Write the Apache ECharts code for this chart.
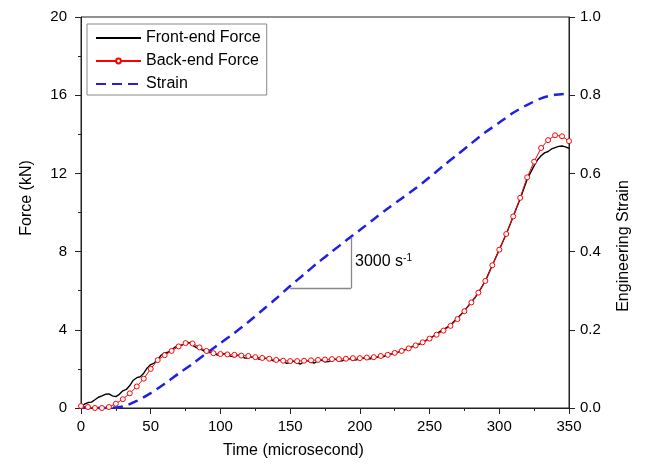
<!DOCTYPE html>
<html>
<head>
<meta charset="utf-8">
<script src="https://cdn.jsdelivr.net/npm/echarts@6/dist/echarts.min.js"></script>
<style>html,body{margin:0;padding:0;background:#fff;}#c{width:646px;height:465px;}</style>
</head>
<body>
<div id="c"></div>
<script>
// Front-end force samples every 2.5 us (0..350)
const frontTime = Array.from({length:141}, (_, i) => i * 2.5);
const frontForce = [0.05,0.2,0.28,0.3,0.42,0.55,0.62,0.7,0.72,0.62,0.58,0.7,0.88,0.95,1.15,1.42,1.55,1.6,1.78,2.05,
  2.22,2.3,2.48,2.7,2.82,2.85,2.98,3.12,3.18,3.22,3.3,3.35,3.22,3.1,3.02,2.95,2.82,2.85,2.78,2.72,
  2.68,2.78,2.74,2.64,2.62,2.7,2.66,2.55,2.56,2.62,2.58,2.5,2.48,2.55,2.5,2.42,2.38,2.45,2.4,2.28,
  2.33,2.4,2.3,2.25,2.38,2.42,2.34,2.3,2.42,2.45,2.36,2.38,2.44,2.5,2.4,2.42,2.48,2.52,2.44,2.46,
  2.52,2.56,2.5,2.52,2.56,2.62,2.58,2.64,2.72,2.76,2.78,2.86,2.92,2.98,3.04,3.14,3.22,3.26,3.34,3.46,
  3.56,3.66,3.78,3.92,4.02,4.12,4.24,4.42,4.6,4.78,4.98,5.2,5.42,5.64,5.9,6.2,6.5,6.9,7.3,7.7,
  8.1,8.5,8.9,9.35,9.8,10.25,10.7,11.2,11.7,12.05,12.4,12.7,12.9,13.05,13.12,13.25,13.32,13.38,13.4,13.36,13.28];
// Back-end force samples every 5 us (0..350)
const backTime = [0,5,10,15,20,25,30,35,40,45,50,55,60,65,70,75,80,85,90,95,100,105,110,115,120,125,130,135,140,145,150,155,160,165,170,175,180,185,190,195,200,205,210,215,220,225,230,235,240,245,250,255,260,265,270,275,280,285,290,295,300,305,310,315,320,325,330,335,340,345,350];
const backForce = [0.1,0.05,0.0,0.0,0.05,0.22,0.45,0.75,1.1,1.5,2.0,2.45,2.7,2.92,3.15,3.32,3.3,3.1,2.92,2.8,2.76,2.74,2.72,2.68,2.66,2.6,2.56,2.52,2.46,2.42,2.4,2.4,2.42,2.44,2.46,2.48,2.5,2.5,2.52,2.55,2.55,2.58,2.6,2.66,2.72,2.82,2.92,3.05,3.2,3.36,3.55,3.75,3.96,4.2,4.55,4.95,5.4,5.9,6.5,7.3,8.1,8.9,9.8,10.75,11.8,12.6,13.3,13.7,13.95,13.9,13.65];
// Engineering strain, 10 us steps (0..350)
const strainTime = [0,10,20,30,40,50,60,70,80,90,100,110,120,130,140,150,160,170,180,190,200,210,220,230,240,250,260,270,280,290,300,310,320,330,340,350];
const strain = [0,0,0,0.004,0.018,0.038,0.062,0.088,0.113,0.14,0.166,0.192,0.22,0.25,0.28,0.312,0.342,0.372,0.4,0.428,0.455,0.483,0.51,0.536,0.562,0.59,0.62,0.648,0.677,0.705,0.73,0.755,0.775,0.792,0.801,0.804];
const xTicks = [0,50,100,150,200,250,300,350];
const forceTicks = [0,4,8,12,16,20];
const strainTicks = [0,0.2,0.4,0.6,0.8,1.0];
const seriesNames = ['Front-end Force','Back-end Force','Strain'];
// slope annotation (time, strain)
const slopeTri = [[150,0.306],[193.7,0.306],[193.7,0.436]];
const slopeLabel = '3000 s';
const slopeSup = '-1';

const FONT = "'Liberation Sans', Arial, sans-serif";
const chart = echarts.init(document.getElementById('c'));
const zip = (a,b) => a.map((v,i)=>[v,b[i]]);
const axisLineStyle = {color:'#222', width:1};
chart.setOption({
  animation:false,
  textStyle:{fontFamily:FONT},
  grid:{left:81,right:77,top:17,bottom:57,show:true,borderColor:'#222',borderWidth:1},
  legend:{
    orient:'vertical', left:87, top:24, padding:[5,6,2,8], itemGap:5,
    itemWidth:45, itemHeight:6, borderColor:'#888', borderWidth:1, backgroundColor:'#fff',
    textStyle:{fontSize:16, color:'#000', fontFamily:FONT, lineHeight:18},
    data:[
      {name:seriesNames[0], itemStyle:{opacity:0}},
      {name:seriesNames[1]},
      {name:seriesNames[2], itemStyle:{opacity:0}}
    ]
  },
  xAxis:{
    type:'value', min:xTicks[0], max:xTicks[xTicks.length-1], interval:50,
    axisLine:{show:true, lineStyle:axisLineStyle},
    axisTick:{show:true, inside:false, length:6, lineStyle:axisLineStyle},
    minorTick:{show:true, splitNumber:2, length:3, lineStyle:axisLineStyle},
    splitLine:{show:false},
    axisLabel:{fontSize:15, color:'#000', margin:11, fontFamily:FONT}
  },
  yAxis:[{
    type:'value', min:forceTicks[0], max:forceTicks[forceTicks.length-1], interval:4, position:'left',
    axisLine:{show:true, lineStyle:axisLineStyle},
    axisTick:{show:true, inside:false, length:6, lineStyle:axisLineStyle},
    minorTick:{show:true, splitNumber:2, length:3, lineStyle:axisLineStyle},
    splitLine:{show:false},
    axisLabel:{fontSize:15, color:'#000', margin:14, fontFamily:FONT}
  },{
    type:'value', min:strainTicks[0], max:strainTicks[strainTicks.length-1], interval:0.2, position:'right',
    axisLine:{show:true, lineStyle:axisLineStyle},
    axisTick:{show:true, inside:false, length:6, lineStyle:axisLineStyle},
    splitLine:{show:false},
    axisLabel:{fontSize:15, color:'#000', margin:11, fontFamily:FONT, formatter:v=>v.toFixed(1)}
  }],
  series:[
    {name:seriesNames[0], type:'line', data:zip(frontTime,frontForce), symbol:'none',
     lineStyle:{color:'#000', width:1.4}, itemStyle:{color:'#000'}},
    {name:seriesNames[1], type:'line', data:zip(backTime,backForce), symbol:'circle', symbolSize:5,
     showSymbol:true,
     lineStyle:{color:'#ff0000', width:1}, itemStyle:{color:'#fff', borderColor:'#ff0000', borderWidth:1}},
    {name:seriesNames[2], type:'line', yAxisIndex:1, data:zip(strainTime,strain), symbol:'none', smooth:0.3,
     lineStyle:{color:'#1f1fe6', width:2.5, type:[10,6]}, itemStyle:{color:'#1f1fe6'},
     markLine:{silent:true, symbol:'none', animation:false,
       lineStyle:{color:'#888', width:1.3, type:'solid'}, label:{show:false},
       data:[[{coord:slopeTri[0]},{coord:slopeTri[1]}],[{coord:slopeTri[1]},{coord:slopeTri[2]}]]}}
  ]
});
const p = chart.convertToPixel({xAxisIndex:0, yAxisIndex:1}, [slopeTri[1][0], (slopeTri[1][1]+slopeTri[2][1])/2]);
chart.setOption({graphic:[
  {type:'text', left:p[0]+4, top:p[1]-10, style:{text:'{a|'+slopeLabel+'}{b|'+slopeSup+'}', fill:'#000',
    rich:{a:{fontSize:16, fontFamily:FONT, fill:'#000'}, b:{fontSize:10, fontFamily:FONT, fill:'#000', verticalAlign:'top', padding:[0,0,8,0]}}}},
  {type:'text', left:297-74, top:443, style:{text:'Time (microsecond)', fontSize:16, fontFamily:FONT, fill:'#000'}},
  {type:'text', x:27, y:198, rotation:Math.PI/2, style:{text:'Force (kN)', fontSize:16, fontFamily:FONT, fill:'#000', align:'center', verticalAlign:'middle'}},
  {type:'text', x:624, y:246, rotation:Math.PI/2, style:{text:'Engineering Strain', fontSize:16, fontFamily:FONT, fill:'#000', align:'center', verticalAlign:'middle'}}
]});
</script>
</body>
</html>
